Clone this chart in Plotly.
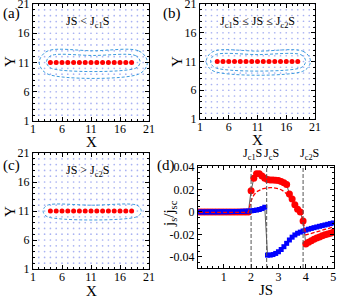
import plotly.graph_objects as go

FONT = "Liberation Serif"

# ---------------- lattice panels (a)-(c) ----------------
lattice_sites = list(range(1, 22))
lattice_ticks = [1, 6, 11, 16, 21]
chain_sites_x = list(range(4, 19))
chain_row_y = 11

# contour bounds (x0, x1, y0, y1) in lattice units
contours_a = [(2.2, 20.6, 9.0, 13.0), (3.4, 19.4, 10.0, 12.2)]
contours_b = [(2.2, 20.1, 9.3, 12.8), (2.9, 19.3, 9.9, 12.2)]
contours_c = [(2.8, 19.6, 10.0, 12.0)]

panel_texts = ["JS &lt; J<sub>c1</sub>S",
               "J<sub>c1</sub>S ≤ JS ≤ J<sub>c2</sub>S",
               "JS &gt; J<sub>c2</sub>S"]
panel_labels = ["(a)", "(b)", "(c)", "(d)"]

# ---------------- panel (d) ----------------
js = [0.1, 0.2, 0.3, 0.4, 0.5, 0.6, 0.7, 0.8, 0.9, 1.0,
      1.1, 1.2, 1.3, 1.4, 1.5, 1.6, 1.7, 1.8, 1.9, 2.0,
      2.1, 2.2, 2.3, 2.4, 2.5, 2.6, 2.7, 2.8, 2.9, 3.0,
      3.1, 3.2, 3.3, 3.4, 3.5, 3.6, 3.7, 3.8, 3.9, 4.0,
      4.1, 4.2, 4.3, 4.4, 4.5, 4.6, 4.7, 4.8, 4.9, 5.0]

blue_squares = [0.0000, 0.0000, 0.0000, 0.0000, 0.0001, 0.0001, 0.0001, 0.0001, 0.0002, 0.0002,
                0.0002, 0.0003, 0.0003, 0.0004, 0.0004, 0.0005, 0.0006, 0.0007, 0.0008, 0.0010,
                0.0013, 0.0017, 0.0022, 0.0030, 0.0042, -0.0385, -0.0385, -0.0380, -0.0370, -0.0355,
                -0.0335, -0.0310, -0.0280, -0.0250, -0.0225, -0.0205, -0.0190, -0.0180, -0.0170, -0.0162,
                -0.0154, -0.0147, -0.0140, -0.0134, -0.0128, -0.0122, -0.0116, -0.0110, -0.0104, -0.0098]

red_circles = [0.0, 0.0, 0.0, 0.0, 0.0, 0.0, 0.0, 0.0, 0.0, 0.0,
               0.0, 0.0, 0.0, 0.0, 0.0, 0.0, 0.0, 0.0, 0.0, 0.0190,
               0.0300, 0.0340, 0.0340, 0.0320, 0.0300, 0.0290, 0.0286, 0.0284, 0.0282, 0.0280,
               0.0272, 0.0260, 0.0245, 0.0160, 0.0115, 0.0065, 0.0025, 0.0000, -0.0080, -0.0285,
               -0.0270, -0.0256, -0.0244, -0.0233, -0.0223, -0.0213, -0.0204, -0.0196, -0.0189, -0.0182]

red_dashed = [-0.0003, -0.0003, -0.0003, -0.0003, -0.0003, -0.0003, -0.0003, -0.0003, -0.0003, -0.0003,
              -0.0003, -0.0003, -0.0003, -0.0003, -0.0003, -0.0003, -0.0003, -0.0003, -0.0003, 0.0100,
              0.0150, 0.0180, 0.0195, 0.0205, 0.0210, 0.0215, 0.0217, 0.0216, 0.0213, 0.0208,
              0.0198, 0.0183, 0.0160, 0.0125, 0.0092, 0.0063, 0.0036, 0.0012, -0.0080, -0.0205,
              -0.0198, -0.0190, -0.0183, -0.0176, -0.0170, -0.0163, -0.0156, -0.0149, -0.0142, -0.0135]

jc_values = [2.0, 2.57, 3.9]
jc_labels = ["J<sub>c1</sub>S", "J<sub>c</sub>S", "J<sub>c2</sub>S"]
jc_shifts = [-10, -5, -5]

d_xticks = [1, 2, 3, 4, 5]
d_yticks = [0.04, 0.02, 0, -0.02, -0.04]
d_yticktext = ["0.04", "0.02", "0", "-0.02", "-0.04"]

fig = go.Figure()


def rounded_rect(x0, x1, y0, y1):
    r = 0.35 * (y1 - y0)
    xm = (x0 + x1) / 2
    xs = [xm, x1 - r, x1, x1, x1 - r, x0 + r, x0, x0, x0 + r, xm]
    ys = [y1, y1, y1 - r, y0 + r, y0, y0, y0 + r, y1 - r, y1, y1]
    return xs, ys


grid_x = [i for j in lattice_sites for i in lattice_sites]
grid_y = [j for j in lattice_sites for i in lattice_sites]

for k, contours in enumerate([contours_a, contours_b, contours_c]):
    ax = "" if k == 0 else str(k + 1)
    fig.add_trace(go.Scatter(x=grid_x, y=grid_y, mode="markers", xaxis="x" + ax, yaxis="y" + ax,
                             marker=dict(size=1.7, color="#9aa5f0", opacity=0.85), cliponaxis=False,
                             hoverinfo="skip", showlegend=False))
    for (x0, x1, y0, y1) in contours:
        xs, ys = rounded_rect(x0, x1, y0, y1)
        fig.add_trace(go.Scatter(x=xs, y=ys, mode="lines", xaxis="x" + ax, yaxis="y" + ax,
                                 line=dict(color="#3d9be0", width=1, dash="3px,2px", shape="spline"),
                                 showlegend=False))
    fig.add_trace(go.Scatter(x=chain_sites_x, y=[chain_row_y] * len(chain_sites_x), mode="markers",
                             xaxis="x" + ax, yaxis="y" + ax,
                             marker=dict(size=5, color="#ff0000"), showlegend=False))

# panel (d)
fig.add_trace(go.Scatter(x=js, y=red_circles, mode="lines+markers", xaxis="x4", yaxis="y4",
                         line=dict(color="#333333", width=0.8),
                         marker=dict(symbol="circle", size=7, color="#ff0000"), showlegend=False))
fig.add_trace(go.Scatter(x=js, y=blue_squares, mode="lines+markers", xaxis="x4", yaxis="y4",
                         line=dict(color="#333333", width=0.8),
                         marker=dict(symbol="square", size=5, color="#0000ff"), showlegend=False))
fig.add_trace(go.Scatter(x=js, y=red_dashed, mode="lines", xaxis="x4", yaxis="y4",
                         line=dict(color="#ff0000", width=1.3, dash="4px,2px"), showlegend=False))

W, H = 342, 300
domains = {
    "a": ([33 / W, 149 / W], [1 - 121 / H, 1 - 4 / H]),
    "b": ([200 / W, 315 / W], [1 - 119 / H, 1 - 4 / H]),
    "c": ([33 / W, 149 / W], [1 - 269 / H, 1 - 153 / H]),
    "d": ([198 / W, 334 / W], [1 - 268 / H, 1 - 166 / H]),
}

tickfont = dict(family=FONT, size=12, color="black")
common = dict(showline=True, linecolor="black", linewidth=1, mirror="allticks", ticks="inside",
              ticklen=4, tickcolor="black", showgrid=False, zeroline=False, tickfont=tickfont,
              automargin=False, ticklabeloverflow="allow")

layout = dict(width=W, height=H, margin=dict(l=0, r=0, t=0, b=0, pad=0),
              paper_bgcolor="white", plot_bgcolor="white", showlegend=False)

for k, key in enumerate(["a", "b", "c"]):
    ax = "" if k == 0 else str(k + 1)
    dx, dy = domains[key]
    layout["xaxis" + ax] = dict(common, domain=dx, range=[1, 21], tickvals=lattice_ticks,
                                anchor="y" + ax, ticklabelstandoff=-3,
                                minor=dict(dtick=1, tick0=1, ticklen=2, ticks="inside", tickcolor="black"))
    layout["yaxis" + ax] = dict(common, domain=dy, range=[1, 21], tickvals=lattice_ticks,
                                anchor="x" + ax,
                                minor=dict(dtick=1, tick0=1, ticklen=2, ticks="inside", tickcolor="black"))

dx, dy = domains["d"]
layout["xaxis4"] = dict(common, domain=dx, range=[0.06, 5.03], tickvals=d_xticks, anchor="y4",
                        ticklabelstandoff=-2,
                        minor=dict(dtick=0.2, tick0=0, ticklen=2, ticks="inside", tickcolor="black"))
layout["yaxis4"] = dict(common, domain=dy, range=[-0.05, 0.041], tickvals=d_yticks,
                        ticktext=d_yticktext, anchor="x4",
                        minor=dict(dtick=0.005, tick0=0, ticklen=2, ticks="inside", tickcolor="black"))

shapes = []
for v in jc_values:
    shapes.append(dict(type="line", xref="x4", yref="y4 domain", x0=v, x1=v, y0=0, y1=1,
                       line=dict(color="#555555", width=1, dash="4px,2px")))
layout["shapes"] = shapes

ann = []
lab_font = dict(family=FONT, size=15, color="black")
title_font = dict(family=FONT, size=15, color="black")
txt_font = dict(family=FONT, size=12, color="black")

# panel labels
for lab, (px, py) in zip(panel_labels, [(11, 14), (172, 14), (11, 165), (166, 165)]):
    ann.append(dict(text=lab, x=px / W, y=1 - py / H, xref="paper", yref="paper",
                    showarrow=False, font=lab_font, xanchor="center", yanchor="middle"))

# axis titles for lattice panels
for (xc, xy), (yx, yc) in [((91, 142), (10, 62)), ((257, 140), (177, 62)), ((91, 291), (10, 212))]:
    ann.append(dict(text="X", x=xc / W, y=1 - xy / H, xref="paper", yref="paper",
                    showarrow=False, font=title_font, xanchor="center", yanchor="middle"))
    ann.append(dict(text="Y", x=yx / W, y=1 - yc / H, xref="paper", yref="paper", textangle=-90,
                    showarrow=False, font=title_font, xanchor="center", yanchor="middle"))

# inside texts
for txt, (tx, ty) in zip(panel_texts, [(87, 22), (257, 22), (87, 171)]):
    ann.append(dict(text=txt, x=tx / W, y=1 - ty / H, xref="paper", yref="paper",
                    showarrow=False, font=txt_font, xanchor="center", yanchor="middle"))

# panel (d) titles
ann.append(dict(text="JS", x=266 / W, y=1 - 290 / H, xref="paper", yref="paper",
                showarrow=False, font=title_font, xanchor="center", yanchor="middle"))
ann.append(dict(text="j<sub>s</sub>/j<sub>sc</sub>", x=170 / W, y=1 - 214 / H, xref="paper",
                yref="paper", textangle=-90, showarrow=False, font=title_font,
                xanchor="center", yanchor="middle"))

for v, lab, sh in zip(jc_values, jc_labels, jc_shifts):
    ann.append(dict(text=lab, x=v, y=1, xref="x4", yref="y4 domain", xshift=sh, yshift=2,
                    showarrow=False, font=txt_font, xanchor="left", yanchor="bottom"))

layout["annotations"] = ann
fig.update_layout(**layout)
fig.write_html("out.html", config={"displayModeBar": False},
               post_script="document.body.style.margin='0';document.body.style.padding='0';")
